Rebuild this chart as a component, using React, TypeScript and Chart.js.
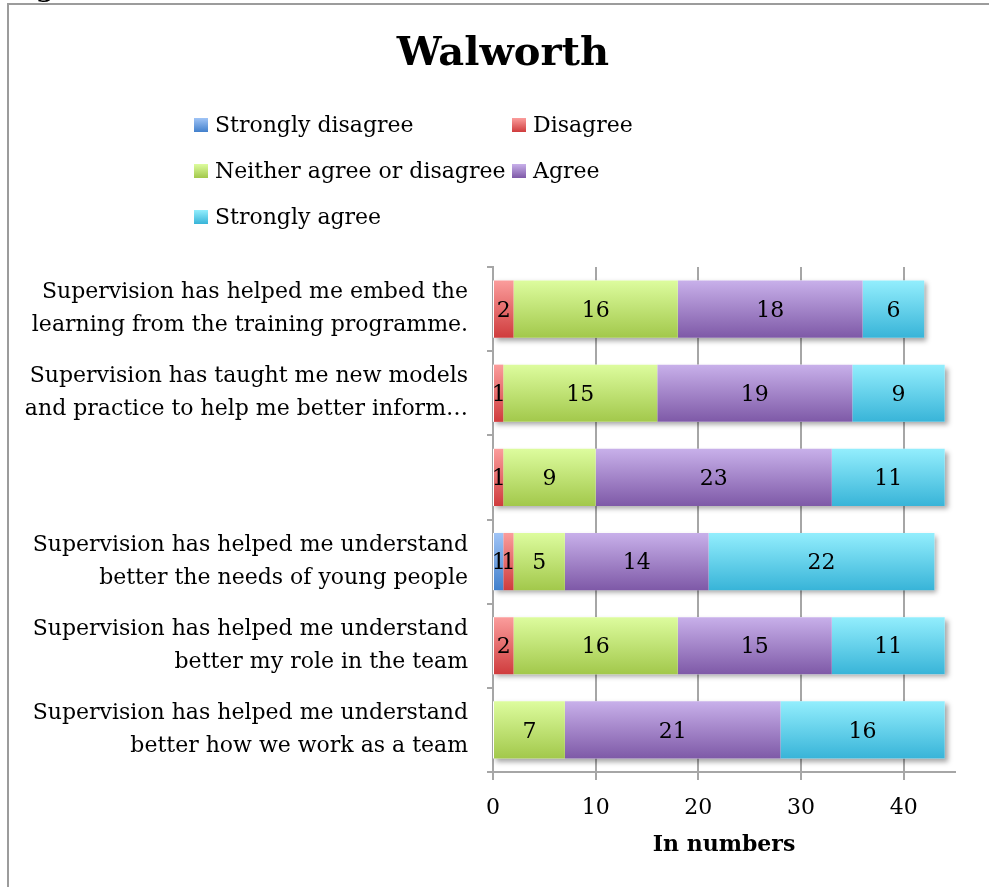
import React, { useEffect, useRef } from "react";
import { Chart, registerables } from "chart.js";

Chart.register(...registerables);

const FONT = "'DejaVu Serif', serif";

const chartTitle = "Walworth";

const categories: (string | string[])[] = [
  ["Supervision has helped me embed the", "learning from the training programme."],
  ["Supervision has taught me new models", "and practice to help me better inform…"],
  "",
  ["Supervision has helped me understand", "better the needs of young people"],
  ["Supervision has helped me understand", "better my role in the team"],
  ["Supervision has helped me understand", "better how we work as a team"],
];

const seriesNames = [
  "Strongly disagree",
  "Disagree",
  "Neither agree or disagree",
  "Agree",
  "Strongly agree",
];

const stronglyDisagree = [0, 0, 0, 1, 0, 0];
const disagree = [2, 1, 1, 1, 2, 0];
const neither = [16, 15, 9, 5, 16, 7];
const agree = [18, 19, 23, 14, 15, 21];
const stronglyAgree = [6, 9, 11, 22, 11, 16];

const xTicks = [0, 10, 20, 30, 40];
const xMax = 45;

const seriesValues = [stronglyDisagree, disagree, neither, agree, stronglyAgree];
const seriesColors: [string, string][] = [
  ["#a0c4f6", "#4280cc"],
  ["#fb9d9c", "#cf3c3d"],
  ["#ddfc9e", "#a2c84b"],
  ["#c8b0ea", "#7e59a7"],
  ["#93eefd", "#38b4d8"],
];

const BAR_PCT = 0.68;

function barGradient(chart: any, index: number, colors: [string, string]) {
  const ys = chart.scales && chart.scales.y;
  if (!ys || index === undefined || !ys.height) return colors[1];
  const c = ys.getPixelForValue(index);
  const h = (ys.height / categories.length) * BAR_PCT;
  const g = chart.ctx.createLinearGradient(0, c - h / 2, 0, c + h / 2);
  g.addColorStop(0, colors[0]);
  g.addColorStop(1, colors[1]);
  return g;
}

const shadowPlugin = {
  id: "barShadow",
  beforeDatasetsDraw(chart: any) {
    const { ctx } = chart;
    const xs = chart.scales.x;
    const ys = chart.scales.y;
    const h = (ys.height / categories.length) * BAR_PCT;
    categories.forEach((_, i) => {
      const total = seriesValues.reduce((s, arr) => s + arr[i], 0);
      const x0 = xs.getPixelForValue(0);
      const x1 = xs.getPixelForValue(total);
      const c = ys.getPixelForValue(i);
      ctx.save();
      ctx.shadowColor = "rgba(0,0,0,0.35)";
      ctx.shadowBlur = 5;
      ctx.shadowOffsetX = 3;
      ctx.shadowOffsetY = 3;
      ctx.fillStyle = "#ffffff";
      ctx.fillRect(x0, c - h / 2, x1 - x0, h);
      ctx.restore();
    });
  },
};

const valueLabelPlugin = {
  id: "valueLabels",
  afterDatasetsDraw(chart: any) {
    const { ctx } = chart;
    ctx.save();
    ctx.font = `22px ${FONT}`;
    ctx.fillStyle = "#000";
    ctx.textAlign = "center";
    ctx.textBaseline = "middle";
    chart.data.datasets.forEach((ds: any, d: number) => {
      const meta = chart.getDatasetMeta(d);
      meta.data.forEach((el: any, i: number) => {
        const v = ds.data[i];
        if (!v) return;
        const p = el.getCenterPoint();
        ctx.fillText(String(v), p.x, p.y + 2);
      });
    });
    ctx.restore();
  },
};

const titleLegendPlugin = {
  id: "titleLegend",
  afterDraw(chart: any) {
    const { ctx } = chart;
    ctx.save();
    ctx.font = `bold 40px ${FONT}`;
    ctx.fillStyle = "#000";
    ctx.textAlign = "center";
    ctx.textBaseline = "middle";
    ctx.fillText(chartTitle, 503, 55);

    const colX = [194, 512];
    const rowY = [125, 171, 217];
    ctx.font = `22px ${FONT}`;
    ctx.textAlign = "left";
    seriesNames.forEach((name, i) => {
      const x = colX[i % 2];
      const y = rowY[Math.floor(i / 2)];
      const g = ctx.createLinearGradient(0, y - 7, 0, y + 7);
      g.addColorStop(0, seriesColors[i][0]);
      g.addColorStop(1, seriesColors[i][1]);
      ctx.fillStyle = g;
      ctx.fillRect(x, y - 7, 14, 14);
      ctx.fillStyle = "#000";
      ctx.fillText(name, x + 21, y + 1);
    });
    ctx.restore();
  },
};

function ChartCanvas() {
  const ref = useRef<HTMLCanvasElement | null>(null);
  useEffect(() => {
    if (!ref.current) return;
    const chart = new Chart(ref.current, {
      type: "bar",
      data: {
        labels: categories as any,
        datasets: seriesNames.map((name, i) => ({
          label: name,
          data: seriesValues[i],
          backgroundColor: (c: any) => barGradient(c.chart, c.dataIndex, seriesColors[i]),
          borderWidth: 0,
          barPercentage: BAR_PCT,
          categoryPercentage: 1,
        })),
      },
      options: {
        indexAxis: "y",
        responsive: false,
        animation: false,
        layout: { padding: { left: 0, right: 34, top: 267, bottom: 0 } },
        plugins: {
          legend: { display: false },
          tooltip: { enabled: false },
          title: { display: false },
        },
        scales: {
          x: {
            stacked: true,
            min: 0,
            max: xMax,
            ticks: {
              stepSize: 10,
              color: "#000",
              font: { family: FONT, size: 22 },
              padding: 15,
            },
            afterBuildTicks: (s: any) => {
              s.ticks = xTicks.map((v) => ({ value: v }));
            },
            afterFit: (s: any) => {
              s.height = 115;
            },
            grid: { color: "#a6a6a6", lineWidth: 2, tickLength: 8 },
            border: { color: "#a6a6a6", width: 2 },
            title: {
              display: true,
              text: "In numbers",
              color: "#000",
              font: { family: FONT, size: 22, weight: "bold" },
              padding: { top: 0, bottom: 29 },
            },
          },
          y: {
            stacked: true,
            ticks: {
              color: "#000",
              font: { family: FONT, size: 22, lineHeight: 1.5 },
              padding: 19,
              autoSkip: false,
            },
            afterFit: (s: any) => {
              s.width = 493;
            },
            grid: {
              drawOnChartArea: false,
              color: "#a6a6a6",
              lineWidth: 2,
              tickLength: 6,
              offset: true,
            },
            border: { color: "#a6a6a6", width: 2 },
          },
        },
      } as any,
      plugins: [shadowPlugin, valueLabelPlugin, titleLegendPlugin],
    });
    return () => chart.destroy();
  }, []);
  return <canvas ref={ref} width={989} height={887} style={{ display: "block" }} />;
}

export default function App() {
  return (
    <div style={{ position: "absolute", left: 0, top: 0, width: 989, height: 887, background: "#fff", overflow: "hidden" }}>
      <ChartCanvas />
      <div style={{ position: "absolute", left: 36, top: 0, width: 30, height: 3, overflow: "hidden" }}>
        <div style={{ position: "absolute", left: 0, top: -25, font: `bold 26px/26px ${FONT}`, color: "#000" }}>g</div>
      </div>
      <div style={{ position: "absolute", left: 7, top: 3, width: 982, height: 2, background: "#9c9c9c" }} />
      <div style={{ position: "absolute", left: 7, top: 3, width: 2, height: 884, background: "#9c9c9c" }} />
    </div>
  );
}
